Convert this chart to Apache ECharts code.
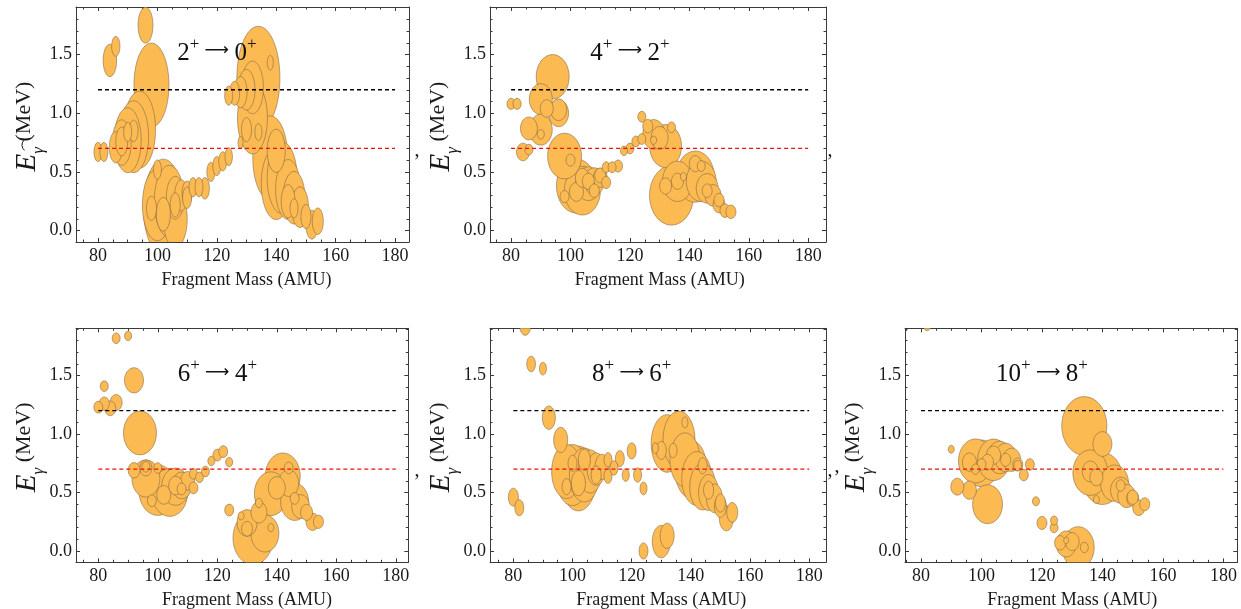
<!DOCTYPE html>
<html>
<head>
<meta charset="utf-8">
<script src="https://cdn.jsdelivr.net/npm/echarts@6/dist/echarts.min.js"></script>
<style>
  html, body { margin: 0; padding: 0; background: #ffffff; }
  #chart { width: 1241px; height: 609px; }
</style>
</head>
<body>
<div id="chart"></div>
<script>
// Tick positions shared by every panel
const massTicks = [80, 100, 120, 140, 160, 180];
const massMinorTicks = [75, 85, 90, 95, 105, 110, 115, 125, 130, 135, 145, 150, 155, 165, 170, 175];
const energyTicks = [0, 0.5, 1.0, 1.5];
const energyMinorTicks = [0.1, 0.2, 0.3, 0.4, 0.6, 0.7, 0.8, 0.9, 1.1, 1.2, 1.3, 1.4, 1.6, 1.7, 1.8, 1.9];

// Reference gamma energies (MeV)
const upperLine = 1.2;
const lowerLine = 0.7;
const lineSpan = [80, 180];

// Transitions: [initial spin, final spin]
const transitions = [['2', '0'], ['4', '2'], ['6', '4'], ['8', '6'], ['10', '8']];

// Bubbles: [fragment mass (AMU), E_gamma (MeV), relative yield]
const bubbles2to0 = [
  [80, 0.67, 4], [82, 0.67, 4], [84, 1.45, 11.4], [86, 1.57, 4.3],
  [96, 1.75, 14], [98, 1.24, 76.6],
  [86, 0.71, 10.6], [88, 0.75, 22.6], [88, 0.76, 9], [90, 0.77, 45.6], [92, 0.80, 56], [94, 0.86, 64],
  [90, 0.84, 4], [92, 0.85, 5],
  [102, 0.20, 100], [100, 0.22, 56], [104, 0.25, 56], [106, 0.10, 36], [106, 0.28, 20],
  [108, 0.30, 10.6], [110, 0.32, 6.3], [98, 0.19, 6.3], [100, 0.52, 4], [102, 0.14, 12.3],
  [106, 0.22, 6.3], [110, 0.28, 5], [112, 0.37, 4], [114, 0.37, 4], [116, 0.36, 5],
  [118, 0.50, 4], [120, 0.55, 4], [122, 0.59, 4], [124, 0.63, 3.5],
  [124, 1.15, 4], [126, 1.17, 6.3], [128, 1.18, 10.6], [130, 1.20, 18], [132, 1.22, 30],
  [134, 1.30, 116], [138, 1.43, 2.3], [132, 0.96, 56], [130, 0.86, 6.3], [134, 0.84, 3.1], [128, 0.75, 1.6],
  [138, 0.62, 76.6], [140, 0.68, 20.3], [140, 0.40, 56], [142, 0.45, 56], [144, 0.35, 39],
  [146, 0.28, 30], [148, 0.20, 18], [146, 0.19, 4], [150, 0.12, 6.3], [152, 0.05, 9],
  [154, 0.08, 7.6], [144, 0.25, 12]
];
const bubbles4to2 = [
  [80, 1.08, 4.3], [82, 1.08, 4.3],
  [94, 1.31, 68], [90, 1.12, 33], [92, 1.04, 10.6], [96, 1.00, 25], [96, 1.03, 16],
  [86, 0.87, 18], [90, 0.86, 33], [90, 0.82, 3.1], [84, 0.67, 10.6], [86, 0.69, 4],
  [98, 0.635, 72], [100, 0.60, 5],
  [102, 0.38, 100], [104, 0.34, 81], [106, 0.40, 39], [108, 0.42, 25], [110, 0.45, 12.3],
  [98, 0.29, 5], [102, 0.33, 12.3], [104, 0.45, 12.3], [106, 0.42, 9], [108, 0.34, 6.3],
  [110, 0.47, 7.6], [112, 0.41, 5], [112, 0.54, 4], [114, 0.54, 4], [116, 0.55, 5],
  [118, 0.68, 3.1], [120, 0.70, 4], [122, 0.76, 4], [124, 0.78, 4], [124, 0.97, 4],
  [126, 0.89, 6.3], [128, 0.82, 30], [130, 0.79, 18], [132, 0.72, 64], [128, 0.77, 2.3], [134, 0.88, 4],
  [134, 0.30, 121], [136, 0.42, 56], [132, 0.38, 9], [136, 0.42, 9], [138, 0.46, 2.3],
  [142, 0.46, 90], [144, 0.42, 56], [146, 0.36, 30], [142, 0.57, 9], [144, 0.55, 4],
  [146, 0.34, 6.3], [148, 0.30, 16], [150, 0.26, 6.3], [150, 0.22, 9], [152, 0.17, 6.3], [154, 0.16, 6.3]
];
const bubbles6to4 = [
  [86, 1.82, 4], [90, 1.84, 3.1], [92, 1.46, 22.6], [82, 1.41, 4],
  [80, 1.23, 5], [82, 1.26, 6.3], [84, 1.22, 7.6], [86, 1.27, 9],
  [94, 1.01, 68],
  [96, 0.62, 49], [100, 0.52, 90], [104, 0.50, 81], [106, 0.55, 49], [108, 0.56, 25], [110, 0.60, 12.3],
  [92, 0.69, 8.5], [96, 0.71, 9], [96, 0.72, 4], [100, 0.71, 4], [102, 0.48, 12.3], [98, 0.43, 5],
  [106, 0.56, 12.3], [108, 0.53, 5], [112, 0.54, 5], [112, 0.66, 4], [114, 0.63, 4], [116, 0.68, 4],
  [118, 0.77, 3.1], [120, 0.82, 5], [122, 0.85, 5], [124, 0.76, 3.1], [124, 0.35, 5],
  [132, 0.11, 100], [136, 0.15, 49], [130, 0.24, 25], [134, 0.33, 16], [128, 0.30, 2.3],
  [130, 0.19, 7.6], [134, 0.41, 3.1], [138, 0.20, 2.3],
  [142, 0.64, 76.6], [138, 0.49, 68], [140, 0.54, 18], [144, 0.71, 5], [146, 0.42, 49],
  [146, 0.45, 5], [144, 0.58, 25], [148, 0.38, 20], [150, 0.33, 9], [152, 0.25, 10.6], [154, 0.25, 6.3]
];
const bubbles8to6 = [
  [84, 1.93, 7.6], [86, 1.60, 4.7], [90, 1.56, 3.1], [92, 1.14, 10.6],
  [80, 0.46, 6.3], [82, 0.37, 5], [96, 0.95, 12.3],
  [98, 0.68, 56], [100, 0.65, 72], [102, 0.62, 81], [104, 0.65, 56], [106, 0.68, 36], [108, 0.70, 20.3], [110, 0.72, 12.3],
  [98, 0.55, 5], [100, 0.75, 5], [102, 0.58, 12.3], [104, 0.78, 9], [108, 0.65, 6.3],
  [112, 0.64, 4], [112, 0.78, 4], [114, 0.71, 4], [116, 0.79, 5], [118, 0.65, 3.1],
  [120, 0.856, 5], [122, 0.65, 4], [124, 0.535, 3.1], [124, 0.00, 5],
  [130, 0.08, 20.3], [132, 0.13, 12.3],
  [132, 0.92, 64], [136, 0.95, 64], [138, 1.10, 2.3], [128, 0.88, 2.3], [130, 0.86, 6.3], [134, 0.86, 4],
  [138, 0.78, 56], [140, 0.70, 64], [142, 0.62, 56], [144, 0.55, 42], [146, 0.50, 25], [148, 0.45, 16],
  [150, 0.38, 9], [144, 0.73, 5], [146, 0.52, 6.3], [150, 0.41, 6.3], [152, 0.28, 12.3], [154, 0.33, 7.6]
];
const bubbles10to8 = [
  [82, 1.93, 4], [90, 0.87, 2.3],
  [98, 0.77, 72], [100, 0.75, 81], [104, 0.78, 64], [106, 0.80, 39], [108, 0.80, 30], [110, 0.78, 20],
  [96, 0.76, 12.3], [100, 0.74, 5], [98, 0.70, 4], [102, 0.76, 9], [104, 0.82, 12.3], [108, 0.78, 6.3],
  [112, 0.73, 4], [112, 0.74, 6.3], [116, 0.74, 5], [114, 0.65, 5],
  [92, 0.55, 10.6], [96, 0.52, 12.3], [102, 0.40, 56],
  [118, 0.425, 3.1], [120, 0.24, 6.3], [124, 0.26, 3.1], [124, 0.20, 4],
  [132, 0.03, 64], [128, 0.06, 25], [126, 0.07, 7.6], [128, 0.09, 1.6], [134, 0.03, 4], [130, 0.08, 12],
  [134, 1.07, 127], [140, 0.915, 22.6],
  [136, 0.67, 76.6], [140, 0.62, 100], [136, 0.68, 16], [138, 0.63, 10.6], [138, 0.44, 2.3],
  [144, 0.58, 49], [146, 0.56, 5], [146, 0.52, 25], [148, 0.47, 20], [150, 0.45, 9],
  [150, 0.46, 7.6], [152, 0.37, 9], [154, 0.40, 6.3]
];

const panelData = [bubbles2to0, bubbles4to2, bubbles6to4, bubbles8to6, bubbles10to8];

// Layout of the five frames (pixels) and their axis windows
const panels = [
  { left: 76,  top: 7,     width: 333,   height: 235, xMin: 72.6, xMax: 184.7, aspect: 2.4 },
  { left: 490, top: 7,     width: 336,   height: 235, xMin: 72.9, xMax: 186.0, aspect: 1.35 },
  { left: 76,  top: 328.3, width: 332.3, height: 234, xMin: 72.5, xMax: 184.2, aspect: 1.33 },
  { left: 490, top: 328.3, width: 336,   height: 234, xMin: 72.1, xMax: 185.7, aspect: 1.8 },
  { left: 905, top: 328.3, width: 332.3, height: 234, xMin: 74.7, xMax: 184.6, aspect: 1.3 }
];
const yMin = -0.097, yMax = 1.905;

const SERIF = '"Liberation Serif", "DejaVu Serif", serif';
const FRAME = '#3a3a3a';
const TEXT = '#1a1a1a';
const BUBBLE_FILL = 'rgb(252,186,82)';
const BUBBLE_EDGE = 'rgba(115,95,65,0.65)';

// bubble diameter grows with the square root of the yield
function bubbleWidth(yieldValue) { return 4 * Math.sqrt(yieldValue); }

const grid = [], xAxis = [], yAxis = [], series = [], graphic = [];

panels.forEach(function (p, i) {
  grid.push({ left: p.left, top: p.top, width: p.width, height: p.height, containLabel: false });

  const xBase = { gridIndex: i, type: 'value', min: p.xMin, max: p.xMax, splitLine: { show: false } };
  const yBase = { gridIndex: i, type: 'value', min: yMin, max: yMax, splitLine: { show: false } };
  const line = { show: true, onZero: false, lineStyle: { color: FRAME, width: 1 } };
  const noLine = { show: false, onZero: false };

  ['bottom', 'top'].forEach(function (pos) {
    xAxis.push(Object.assign({}, xBase, {
      position: pos, axisLine: line,
      axisTick: { show: true, inside: true, length: 4, customValues: massTicks, lineStyle: { color: FRAME } },
      axisLabel: pos === 'bottom'
        ? { show: true, customValues: massTicks, margin: 5, fontFamily: SERIF, fontSize: 18, color: TEXT }
        : { show: false }
    }));
    xAxis.push(Object.assign({}, xBase, {
      position: pos, axisLine: noLine,
      axisTick: { show: true, inside: true, length: 2.5, customValues: massMinorTicks, lineStyle: { color: FRAME } },
      axisLabel: { show: false }
    }));
  });
  ['left', 'right'].forEach(function (pos) {
    yAxis.push(Object.assign({}, yBase, {
      position: pos, axisLine: line,
      axisTick: { show: true, inside: true, length: 4, customValues: energyTicks, lineStyle: { color: FRAME } },
      axisLabel: pos === 'left'
        ? { show: true, customValues: energyTicks, margin: 4, fontFamily: SERIF, fontSize: 18, color: TEXT,
            formatter: function (v) { return Number(v).toFixed(1); } }
        : { show: false }
    }));
    yAxis.push(Object.assign({}, yBase, {
      position: pos, axisLine: noLine,
      axisTick: { show: true, inside: true, length: 2.5, customValues: energyMinorTicks, lineStyle: { color: FRAME } },
      axisLabel: { show: false }
    }));
  });

  // larger bubbles first so the smaller ones stay visible on top
  const data = panelData[i].slice().sort(function (a, b) { return b[2] - a[2]; });
  const aspect = p.aspect;
  series.push({
    type: 'custom',
    xAxisIndex: i * 4, yAxisIndex: i * 4,
    clip: true,
    data: data,
    encode: { x: 0, y: 1 },
    renderItem: function (params, api) {
      const c = api.coord([api.value(0), api.value(1)]);
      const w = bubbleWidth(api.value(2));
      return {
        type: 'ellipse',
        shape: { cx: c[0], cy: c[1], rx: w / 2, ry: w * aspect / 2 },
        style: { fill: BUBBLE_FILL, stroke: BUBBLE_EDGE, lineWidth: 0.8 }
      };
    },
    z: 2
  });

  [[upperLine, '#000000'], [lowerLine, '#ee1111']].forEach(function (ref) {
    series.push({
      type: 'line', xAxisIndex: i * 4, yAxisIndex: i * 4,
      data: [[lineSpan[0], ref[0]], [lineSpan[1], ref[0]]],
      symbol: 'none', silent: true, z: 5,
      lineStyle: { color: ref[1], width: 1.3, type: [4, 3] }
    });
  });

  // transition label
  const t = transitions[i];
  const xPerUnit = p.width / (p.xMax - p.xMin);
  const yPerUnit = p.height / (yMax - yMin);
  graphic.push({
    type: 'text',
    x: p.left + (120 - p.xMin) * xPerUnit,
    y: p.top + (yMax - 1.53) * yPerUnit,
    style: {
      text: '{n|' + t[0] + '}{s|+}{a| \u27f6 }{n|' + t[1] + '}{s|+}',
      align: 'center', verticalAlign: 'middle',
      rich: {
        n: { fontFamily: SERIF, fontSize: 25, lineHeight: 30, verticalAlign: 'bottom', fill: '#111' },
        a: { fontFamily: '"DejaVu Sans", sans-serif', fontSize: 17, lineHeight: 30, verticalAlign: 'middle', fill: '#111' },
        s: { fontFamily: SERIF, fontSize: 17, lineHeight: 18, verticalAlign: 'top', fill: '#111' }
      }
    },
    z: 10
  });

  // axis titles
  graphic.push({
    type: 'text',
    x: p.left + (130 - p.xMin) * xPerUnit,
    y: p.top + p.height + 38,
    style: { text: 'Fragment Mass (AMU)', fontFamily: SERIF, fontSize: 18, fill: TEXT, align: 'center', verticalAlign: 'middle' },
    z: 10
  });
  graphic.push({
    type: 'text',
    x: p.left - 46,
    y: p.top + p.height / 2 + 2,
    rotation: Math.PI / 2,
    style: {
      text: '{e|E}{g|\u03b3}{m| (MeV)}',
      align: 'center', verticalAlign: 'middle',
      rich: {
        e: { fontFamily: SERIF, fontStyle: 'italic', fontSize: 29, lineHeight: 34, verticalAlign: 'top', fill: TEXT },
        g: { fontFamily: SERIF, fontStyle: 'italic', fontSize: 17, lineHeight: 17, verticalAlign: 'bottom', fill: TEXT },
        m: { fontFamily: SERIF, fontSize: 22, lineHeight: 34, verticalAlign: 'top', fill: TEXT }
      }
    },
    z: 10
  });
});

// small arc accent over the first panel's energy symbol
graphic.push({
  type: 'arc',
  shape: { cx: 29, cy: 145, r: 7, startAngle: Math.PI * 0.72, endAngle: Math.PI * 1.28 },
  style: { stroke: TEXT, lineWidth: 1, fill: null },
  z: 10
});

// list separators between the panels
[[417, 151], [830, 151], [417, 471], [830, 471], [837, 467]].forEach(function (pt) {
  graphic.push({
    type: 'text', x: pt[0], y: pt[1],
    style: { text: ',', fontFamily: SERIF, fontSize: 20, fill: TEXT, align: 'center', verticalAlign: 'middle' },
    z: 10
  });
});

const chart = echarts.init(document.getElementById('chart'), null, { renderer: 'canvas' });
chart.setOption({
  animation: false,
  backgroundColor: '#ffffff',
  grid: grid,
  xAxis: xAxis,
  yAxis: yAxis,
  series: series,
  graphic: graphic
});
</script>
</body>
</html>
